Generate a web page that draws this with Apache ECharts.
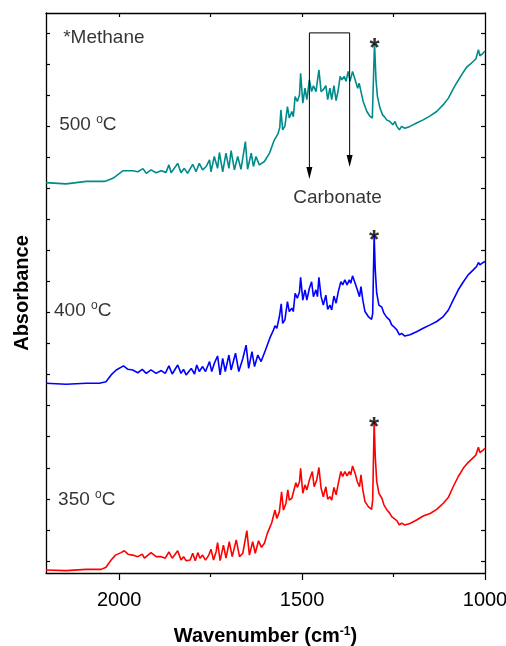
<!DOCTYPE html>
<html>
<head>
<meta charset="utf-8">
<script src="https://cdn.jsdelivr.net/npm/echarts@6/dist/echarts.min.js"></script>
<style>
  html, body { margin: 0; padding: 0; background: #fff; }
  #chart { width: 506px; height: 646px; }
</style>
</head>
<body>
<div id="chart"></div>
<script>
// In-situ IR spectra of the catalyst surface at three temperatures (offset for clarity)

const wn500 = [2200,2145,2090,2040,2017,1990,1963,1958,1949,1935,1926,1913,1899,1885,1872,1864,1858,1840,1831,1822,1813,1799,1790,1781,1772,1762,1753,1749,1740,1731,1726,1717,1708,1700,1694,1685,1676,1667,1655,1649,1639,1633,1626,1617,1603,1589,1576,1573,1566,1561,1558,1553,1547,1540,1535,1528,1524,1519,1513,1507,1504,1498,1492,1487,1480,1474,1469,1462,1458,1454,1448,1442,1435,1430,1424,1419,1413,1407,1401,1396,1391,1385,1380,1374,1369,1362,1355,1348,1344,1339,1333,1323,1314,1308,1305,1302,1298,1294,1287,1280,1274,1269,1260,1252,1246,1241,1234,1228,1219,1205,1187,1169,1150,1132,1114,1100,1088,1078,1064,1050,1037,1025,1018,1014,1005,1000];
const abs500 = [12.18,12.14,12.22,12.22,12.32,12.56,12.56,12.61,12.53,12.63,12.48,12.59,12.50,12.56,12.51,12.75,12.50,12.80,12.50,12.64,12.48,12.77,12.53,12.80,12.59,12.70,12.91,12.53,13.02,12.64,13.15,12.53,13.13,12.64,13.21,12.59,13.02,12.61,13.50,12.61,13.13,12.70,13.02,12.75,12.86,13.13,13.55,13.61,13.75,13.95,14.52,13.88,14.00,14.63,14.26,14.47,14.30,14.95,14.79,15.01,15.70,14.74,15.22,14.85,15.49,15.11,15.30,15.11,15.15,15.81,15.11,15.17,15.30,14.85,15.22,14.85,15.30,14.82,15.17,15.60,15.49,15.60,15.44,15.76,15.44,15.76,15.49,15.22,15.38,15.11,14.79,14.47,14.31,14.26,15.49,16.67,15.49,14.95,14.58,14.36,14.29,14.20,14.15,14.04,14.15,13.99,13.88,13.99,13.93,13.99,14.10,14.20,14.33,14.47,14.69,14.90,15.17,15.38,15.65,15.90,16.03,16.16,16.46,16.26,16.35,16.42];

const wn400 = [2200,2145,2090,2054,2036,2022,2008,1988,1976,1963,1949,1937,1926,1913,1899,1885,1874,1864,1855,1840,1831,1824,1817,1803,1794,1788,1781,1772,1764,1753,1747,1740,1731,1724,1717,1710,1700,1694,1682,1673,1662,1653,1646,1637,1630,1621,1612,1600,1588,1578,1574,1569,1562,1557,1553,1547,1540,1535,1528,1524,1519,1513,1507,1504,1498,1492,1487,1480,1474,1469,1462,1458,1454,1448,1442,1435,1430,1424,1419,1413,1407,1401,1394,1389,1383,1377,1371,1367,1362,1355,1349,1343,1339,1334,1328,1319,1310,1307,1303,1300,1296,1290,1282,1276,1269,1261,1255,1249,1241,1234,1228,1219,1205,1187,1169,1150,1132,1114,1100,1087,1073,1059,1046,1032,1023,1018,1014,1005,1000];
const abs400 = [5.72,5.69,5.72,5.72,5.77,5.99,6.15,6.28,6.17,6.15,6.06,6.17,6.04,6.15,6.04,6.13,6.04,6.28,6.02,6.31,6.04,6.17,5.99,6.20,6.02,6.31,6.10,6.26,6.10,6.42,6.10,6.36,6.60,5.99,6.52,6.10,6.63,6.15,6.69,6.10,6.52,6.95,6.20,6.74,6.26,6.63,6.42,6.79,7.18,7.44,7.57,7.49,7.87,8.28,7.65,7.76,8.35,8.03,8.14,8.03,8.62,8.46,8.67,9.13,8.40,8.73,8.40,8.78,8.99,8.51,8.73,8.51,9.13,8.51,8.24,8.56,8.10,8.24,8.08,8.53,8.30,8.67,8.99,8.89,9.05,8.89,9.05,8.94,9.18,8.94,8.73,8.51,8.83,8.40,8.03,7.87,7.78,7.97,10.50,9.37,8.62,8.24,8.17,7.97,7.85,7.76,7.60,7.54,7.44,7.28,7.33,7.24,7.28,7.38,7.49,7.60,7.71,7.87,8.08,8.40,8.73,8.99,9.21,9.37,9.48,9.61,9.53,9.61,9.64];

const wn350 = [2200,2145,2090,2049,2036,2022,2010,1995,1986,1976,1963,1949,1937,1931,1913,1899,1885,1874,1864,1855,1840,1831,1824,1817,1806,1799,1792,1785,1779,1772,1764,1755,1749,1742,1735,1731,1724,1715,1708,1699,1691,1680,1671,1662,1651,1644,1635,1628,1619,1611,1603,1595,1583,1574,1569,1562,1556,1551,1544,1539,1535,1528,1524,1517,1513,1507,1504,1498,1492,1487,1480,1472,1467,1460,1454,1448,1442,1435,1430,1424,1419,1413,1407,1401,1394,1389,1383,1377,1371,1367,1362,1355,1349,1343,1339,1334,1328,1319,1310,1307,1303,1300,1296,1290,1282,1276,1269,1261,1255,1249,1241,1234,1228,1219,1205,1187,1169,1150,1132,1114,1100,1087,1073,1059,1048,1037,1025,1018,1014,1005,1000];
const abs350 = [-0.29,-0.31,-0.27,-0.27,-0.20,0.03,0.19,0.27,0.33,0.22,0.19,0.14,0.22,0.09,0.27,0.14,0.14,0.09,0.29,0.09,0.33,0.03,0.14,0.01,0.03,0.25,0.01,0.27,0.09,0.19,0.03,0.19,0.38,0.03,0.30,0.59,0.01,0.51,0.09,0.62,0.14,0.68,0.14,0.25,0.98,0.19,0.62,0.25,0.65,0.44,0.57,0.89,1.23,1.64,1.37,1.59,2.23,1.64,1.86,2.29,1.96,2.02,1.96,2.52,2.37,2.55,2.98,2.18,2.45,2.29,2.61,2.88,2.39,2.61,3.01,2.34,2.07,2.39,1.99,2.07,1.96,2.37,2.13,2.50,2.88,2.72,2.88,2.74,2.88,2.77,3.06,2.82,2.55,2.39,2.77,2.29,1.91,1.75,1.66,1.96,4.49,3.36,2.57,2.18,2.02,1.80,1.66,1.55,1.43,1.37,1.30,1.16,1.22,1.16,1.21,1.32,1.45,1.53,1.66,1.86,2.05,2.39,2.72,2.99,3.15,3.27,3.41,3.66,3.49,3.57,3.63];

// Bottom-axis tick labels and the temperatures of the three spectra
const xTickLabels = [2000, 1500, 1000];
const xMinorTicks = [1750, 1250];
const temperatures = ['500', '400', '350'];
const seriesColors = ['#008b8b', '#0000ff', '#ff0000'];

// Carbonate band region (cm-1) marked with a bracket
const carbonateBand = [1480, 1370];

const FONT = '"Liberation Sans", Arial, Helvetica, sans-serif';
const yMin = -0.386, yMax = 17.64;
const yTicks = [];
for (let i = 0; i <= 17; i++) yTicks.push(i);

const zip = (xs, ys) => xs.map((x, i) => [x, ys[i]]);
const spectra = [zip(wn500, abs500), zip(wn400, abs400), zip(wn350, abs350)];

// peak of the methane band in each spectrum
const methanePeaks = spectra.map(s => s.reduce((best, p) =>
  (p[0] > 1290 && p[0] < 1320 && p[1] > best[1]) ? p : best, [0, -Infinity]));

const chart = echarts.init(document.getElementById('chart'), null, { renderer: 'canvas' });

const baseX = {
  type: 'value', min: 1000, max: 2200, inverse: true, gridIndex: 0,
  splitLine: { show: false }
};
const baseY = {
  type: 'value', min: yMin, max: yMax, gridIndex: 0,
  splitLine: { show: false }, axisLabel: { show: false }
};
const axisLine = { show: true, onZero: false, lineStyle: { color: '#000', width: 1.3 } };
const tickStyle = { color: '#000', width: 1.2 };

const tempAnchors = [[2164, 14.04], [2178, 8.05], [2167, 1.96]];

chart.setOption({
  animation: false,
  backgroundColor: '#fff',
  textStyle: { fontFamily: FONT, color: '#000' },
  grid: { left: 46, right: 21, top: 13, bottom: 73, containLabel: false, outerBoundsMode: 'none' },
  xAxis: [
    Object.assign({}, baseX, {
      position: 'bottom',
      axisLine: axisLine,
      axisTick: { show: true, inside: false, length: 7, customValues: xTickLabels, lineStyle: tickStyle },
      axisLabel: {
        show: true, customValues: xTickLabels, color: '#000', fontSize: 20, fontFamily: FONT, margin: 17,
        formatter: v => String(v)
      },
      name: '{b|Wavenumber (cm}{s|-1}{b|)}',
      nameLocation: 'middle',
      nameGap: 53,
      nameTextStyle: {
        rich: {
          b: { fontSize: 20, fontWeight: 'bold', color: '#000', fontFamily: FONT },
          s: { fontSize: 12, fontWeight: 'bold', color: '#000', fontFamily: FONT, verticalAlign: 'top' }
        }
      }
    }),
    Object.assign({}, baseX, {
      position: 'bottom',
      axisLine: { show: false, onZero: false },
      axisTick: { show: true, inside: false, length: 4, customValues: xMinorTicks, lineStyle: tickStyle },
      axisLabel: { show: false }
    }),
    Object.assign({}, baseX, {
      position: 'top',
      axisLine: axisLine,
      axisTick: { show: true, inside: true, length: 4, customValues: [2000, 1750, 1500, 1250], lineStyle: tickStyle },
      axisLabel: { show: false }
    })
  ],
  yAxis: [
    Object.assign({}, baseY, {
      position: 'left',
      axisLine: axisLine,
      axisTick: { show: true, inside: true, length: 4, customValues: yTicks, lineStyle: tickStyle },
      name: 'Absorbance',
      nameLocation: 'middle',
      nameRotate: 90,
      nameGap: 14,
      nameTextStyle: { fontSize: 20, fontWeight: 'bold', color: '#000', fontFamily: FONT }
    }),
    Object.assign({}, baseY, {
      position: 'right',
      axisLine: axisLine,
      axisTick: { show: true, inside: true, length: 4, customValues: yTicks, lineStyle: tickStyle }
    })
  ],
  series: [
    ...spectra.map((data, i) => ({
      name: temperatures[i] + ' °C',
      type: 'line',
      xAxisIndex: 0, yAxisIndex: 0,
      data: data,
      showSymbol: false,
      symbol: 'none',
      lineStyle: { color: seriesColors[i], width: 1.6 },
      z: 3
    })),
    {
      // bracket with two arrows marking the carbonate bands
      type: 'line',
      xAxisIndex: 0, yAxisIndex: 0,
      data: [
        { value: [carbonateBand[0], 12.49], symbol: 'triangle', symbolSize: [6, 12], symbolRotate: 180 },
        { value: [carbonateBand[0], 17.0], symbol: 'none' },
        { value: [carbonateBand[1], 17.0], symbol: 'none' },
        { value: [carbonateBand[1], 12.88], symbol: 'triangle', symbolSize: [6, 12], symbolRotate: 180 }
      ],
      showSymbol: true,
      showAllSymbol: true,
      itemStyle: { color: '#000' },
      lineStyle: { color: '#000', width: 1 },
      z: 4,
      silent: true
    },
    {
      // text annotations
      type: 'scatter',
      xAxisIndex: 0, yAxisIndex: 0,
      symbolSize: 0,
      silent: true,
      z: 5,
      label: {
        show: true, position: 'right', distance: 0, color: '#000',
        fontFamily: FONT, fontSize: 19, textBorderWidth: 0,
        rich: {
          n: { fontSize: 19, color: '#000', fontFamily: FONT, lineHeight: 22 },
          s: { fontSize: 12, color: '#000', fontFamily: FONT, verticalAlign: 'top', lineHeight: 22 }
        }
      },
      data: [
        ...temperatures.map((t, i) => ({
          value: tempAnchors[i],
          label: { formatter: '{n|' + t + ' }{s|o}{n|C}' }
        })),
        { value: [2153, 16.84], label: { formatter: '*Methane' } },
        { value: [1403, 11.69], label: { formatter: 'Carbonate', position: 'inside' } }
      ]
    },
    {
      // asterisks on the methane peaks
      type: 'scatter',
      xAxisIndex: 0, yAxisIndex: 0,
      symbolSize: 0,
      silent: true,
      z: 5,
      label: {
        show: true, position: 'inside', formatter: '*',
        color: '#000', fontSize: 26, fontWeight: 'bold', fontFamily: FONT,
        textBorderWidth: 0,
        offset: [0, 6]
      },
      data: methanePeaks.map(p => [p[0], p[1]])
    }
  ]
});
</script>
</body>
</html>
